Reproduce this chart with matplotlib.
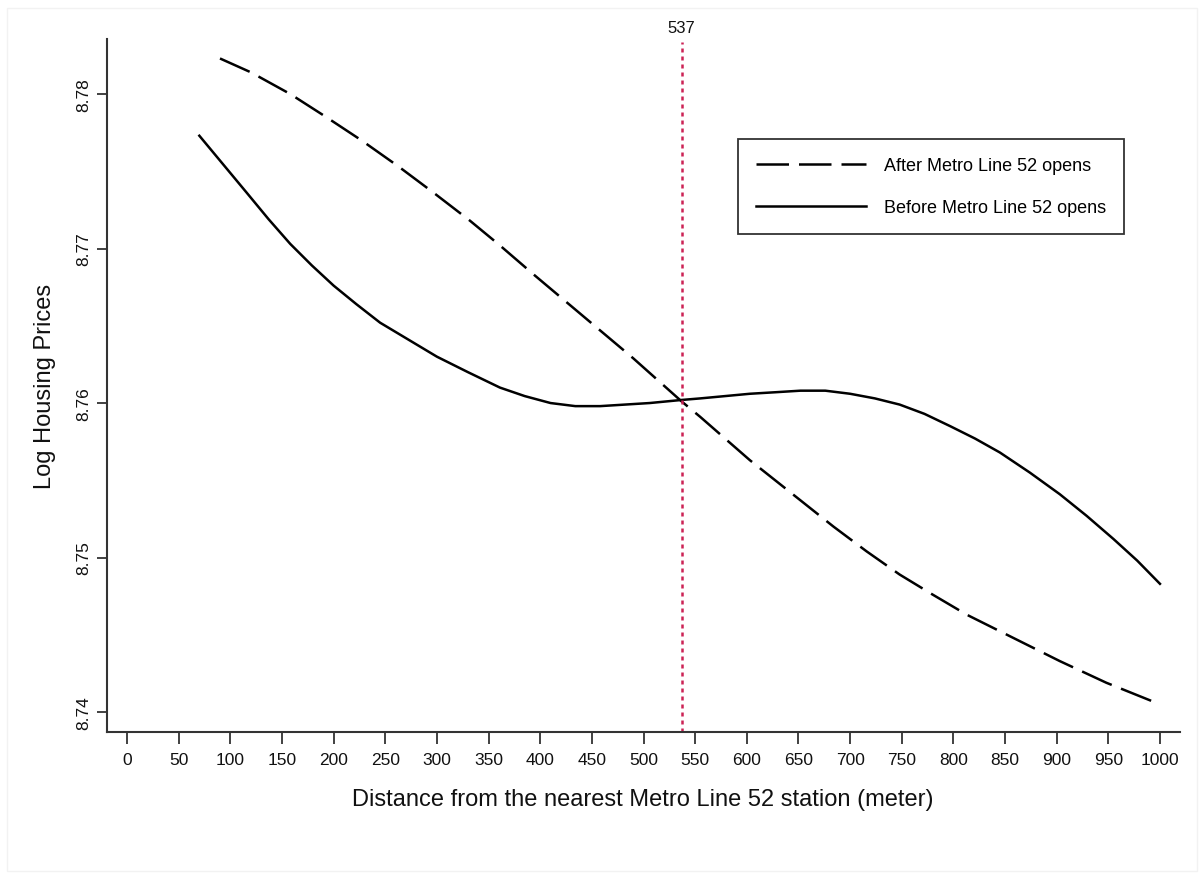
import matplotlib
matplotlib.use("Agg")
import matplotlib.pyplot as plt
from matplotlib.patches import Rectangle

plt.rcParams['font.family'] = ['Liberation Sans', 'DejaVu Sans']

# Data
after_x = [90, 120, 158, 193, 227, 263, 297, 332, 361, 394, 426, 458, 490,
           537, 555, 603, 652, 684, 716, 748, 780, 813, 846, 903, 948, 1000]
after_y = [8.7823, 8.7814, 8.7800, 8.7785, 8.7770, 8.7753, 8.7736, 8.7718,
           8.7702, 8.7683, 8.7665, 8.7647, 8.7629, 8.7601, 8.7591, 8.7563,
           8.7537, 8.7520, 8.7504, 8.7489, 8.7476, 8.7463, 8.7452, 8.7433,
           8.7419, 8.7405]

before_x = [70, 116, 137, 158, 179, 200, 222, 245, 275, 300, 330, 361, 385,
            410, 434, 458, 506, 537, 555, 603, 628, 652, 676, 700, 724, 748,
            772, 797, 821, 845, 874, 903, 929, 955, 978, 1000]
before_y = [8.7773, 8.7736, 8.7719, 8.7703, 8.7689, 8.7676, 8.7664, 8.7652,
            8.7640, 8.7630, 8.7620, 8.7610, 8.76045, 8.7600, 8.7598, 8.7598,
            8.7600, 8.7602, 8.7603, 8.7606, 8.7607, 8.7608, 8.7608, 8.7606,
            8.7603, 8.7599, 8.7593, 8.7585, 8.7577, 8.7568, 8.7555, 8.7541,
            8.7527, 8.7512, 8.7498, 8.7483]

cutoff = 537
x_ticks = list(range(0, 1001, 50))
y_ticks = [8.74, 8.75, 8.76, 8.77, 8.78]
y_tick_labels = ["8.74", "8.75", "8.76", "8.77", "8.78"]
labels = ["After Metro Line 52 opens", "Before Metro Line 52 opens"]

W, H = 1203, 879
fig = plt.figure(figsize=(W / 100, H / 100), dpi=100)
fig.patches.append(Rectangle((7 / W, 1 - 872 / H), 1190 / W, 863 / H,
                             transform=fig.transFigure, fill=False,
                             edgecolor='#f2f2f2', lw=1))
ax = fig.add_axes([107 / W, 1 - 733 / H, (1180 - 107) / W, (733 - 40) / H])

ax.plot(after_x, after_y, color='black', lw=1.8, dashes=(13, 4),
        label=labels[0], solid_joinstyle='round')
ax.plot(before_x, before_y, color='black', lw=1.8, label=labels[1],
        solid_joinstyle='round')
ax.axvline(cutoff, color='#cc2255', lw=1.8, dashes=(1.6, 1.6), ymax=0.995)
ax.text(cutoff, 1.006, str(cutoff), transform=ax.get_xaxis_transform(),
        ha='center', va='bottom', fontsize=12, color='#111111')

ax.set_xlim(-19.4, 1019.4)
ax.set_ylim(8.73871, 8.78356)
ax.set_xticks(x_ticks)
ax.set_xticklabels([str(v) for v in x_ticks])
ax.set_yticks(y_ticks)
ax.set_yticklabels(y_tick_labels, rotation=90, va='center')

for s in ['top', 'right']:
    ax.spines[s].set_visible(False)
for s in ['left', 'bottom']:
    ax.spines[s].set_linewidth(1.5)
    ax.spines[s].set_color('#333333')

ax.tick_params(axis='x', length=8.5, width=1.3, color='#333333',
               labelsize=12.5, pad=6, labelcolor='#111111')
ax.tick_params(axis='y', length=7.5, width=1.3, color='#333333',
               labelsize=12.5, pad=4, labelcolor='#111111')

ax.set_xlabel("Distance from the nearest Metro Line 52 station (meter)",
              fontsize=17, color='#111111', va='center')
ax.xaxis.set_label_coords((643 - 107) / 1073, (733 - 800) / 693)
ax.set_ylabel("Log Housing Prices", fontsize=17, color='#111111',
              va='center', ha='center')
ax.yaxis.set_label_coords((45 - 107) / 1073, (733 - 386) / 693)

leg = ax.legend(loc='upper left', bbox_to_anchor=(0.588, 0.8557),
                frameon=True, fancybox=False, edgecolor='black',
                fontsize=13, handlelength=6.1, handletextpad=1.0,
                labelspacing=1.39, borderpad=1.0, borderaxespad=0)
leg.get_frame().set_linewidth(1.3)

fig.savefig("out.png", dpi=100, facecolor='white')
